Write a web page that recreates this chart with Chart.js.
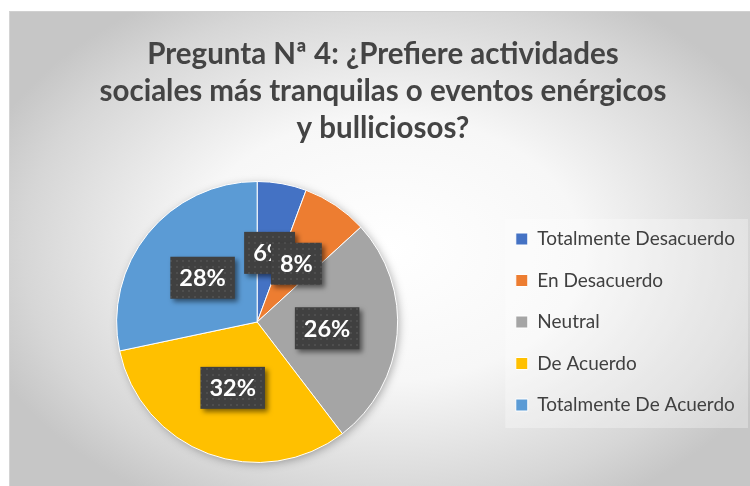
<!DOCTYPE html>
<html>
<head>
<meta charset="utf-8">
<script src="https://cdn.jsdelivr.net/npm/chart.js@4.4.0/dist/chart.umd.min.js"></script>
<style>
  html, body { margin: 0; padding: 0; background: #fff; }
  #wrap { position: relative; width: 750px; height: 486px; overflow: hidden; }
  #bg {
    position: absolute; left: 9px; top: 11px; width: 741px; height: 475px;
    box-sizing: border-box; border-top: 1px solid #d0d0d0; border-left: 1px solid #d4d4d4;
    background: radial-gradient(ellipse 58% 62% at 51% 50%, #ffffff 0%, #f7f7f7 45%, #d6d6d6 85%, #c6c6c6 100%);
  }
  canvas { position: absolute; left: 0; top: 0; }
</style>
</head>
<body>
<div id="wrap">
  <div id="bg"></div>
  <canvas id="pie" width="750" height="486"></canvas>
</div>
<script>
const titleLines = ['Pregunta Nª 4: ¿Prefiere actividades', 'sociales más tranquilas o eventos enérgicos', 'y bulliciosos?'];
const categories = ['Totalmente Desacuerdo', 'En Desacuerdo', 'Neutral', 'De Acuerdo', 'Totalmente De Acuerdo'];
const responses = [3, 4, 14, 17, 15];
const sliceColors = ['#4472C4', '#ED7D31', '#A5A5A5', '#FFC000', '#5B9BD5'];

const LEGEND_PAD = 22.5;

// small dotted texture for the label boxes
function dotPattern(ctx) {
    const p = document.createElement('canvas');
    p.width = 6;
    p.height = 6;
    const c = p.getContext('2d');
    c.fillStyle = '#404040';
    c.fillRect(0, 0, 6, 6);
    c.fillStyle = '#4e4e4e';
    c.fillRect(2, 2, 2, 2);
    return ctx.createPattern(p, 'repeat');
}

const legendPanel = {
    id: 'legendPanel',
    beforeDraw(chart) {
        const lg = chart.legend;
        if (!lg || !lg.columnSizes) return;
        const colH = lg.columnSizes[0].height;
        const startY = (lg.top + LEGEND_PAD + lg.bottom - colH) / 2;
        const ctx = chart.ctx;
        ctx.save();
        ctx.fillStyle = 'rgba(255,255,255,0.3)';
        ctx.fillRect(lg.left + 12, startY - 10.5, chart.width - lg.left - 14, colH - LEGEND_PAD + 24);
        ctx.restore();
    }
};

const pieShadow = {
    id: 'pieShadow',
    beforeDatasetsDraw(chart) {
        const arc = chart.getDatasetMeta(0).data[0];
        if (!arc) return;
        const ctx = chart.ctx;
        ctx.save();
        ctx.shadowColor = 'rgba(0,0,0,0.35)';
        ctx.shadowBlur = 10;
        ctx.shadowOffsetX = 2;
        ctx.shadowOffsetY = 2;
        ctx.fillStyle = '#aaaaaa';
        ctx.beginPath();
        ctx.arc(arc.x, arc.y, arc.outerRadius - 1, 0, Math.PI * 2);
        ctx.fill();
        ctx.restore();
    }
};

const percentLabels = {
    id: 'percentLabels',
    afterDatasetsDraw(chart) {
        const ctx = chart.ctx;
        const data = chart.data.datasets[0].data;
        const total = data.reduce((a, b) => a + b, 0);
        const pattern = dotPattern(ctx);
        ctx.save();
        ctx.font = 'bold 23.5px Lato';
        ctx.textAlign = 'center';
        ctx.textBaseline = 'middle';
        chart.getDatasetMeta(0).data.forEach((arc, i) => {
            const pos = arc.tooltipPosition();
            const txt = Math.round(data[i] / total * 100) + '%';
            const w = ctx.measureText(txt).width + 18;
            const h = 42;
            ctx.shadowColor = 'rgba(0,0,0,0.5)';
            ctx.shadowBlur = 5;
            ctx.shadowOffsetX = 3;
            ctx.shadowOffsetY = 3;
            ctx.fillStyle = pattern;
            ctx.fillRect(pos.x - w / 2, pos.y - h / 2, w, h);
            ctx.shadowColor = 'transparent';
            ctx.fillStyle = '#ffffff';
            ctx.fillText(txt, pos.x, pos.y + 1);
        });
        ctx.restore();
    }
};

const chart = new Chart(document.getElementById('pie').getContext('2d'), {
    type: 'pie',
    data: {
        labels: categories,
        datasets: [{
            data: responses,
            backgroundColor: sliceColors,
            borderColor: '#ffffff',
            borderWidth: 1,
            hoverOffset: 0
        }]
    },
    options: {
        responsive: false,
        animation: false,
        devicePixelRatio: 1,
        layout: { padding: { left: 21, right: 5, top: 36, bottom: 23 } },
        plugins: {
            title: {
                display: true,
                text: titleLines,
                color: '#444444',
                font: { family: 'Lato', size: 29.5, weight: 'bold', lineHeight: 37 / 29.5 },
                padding: { top: 0, bottom: 34 }
            },
            legend: {
                position: 'right',
                fullSize: false,
                labels: {
                    boxWidth: 12,
                    boxHeight: 12,
                    padding: LEGEND_PAD,
                    color: '#404040',
                    font: { family: 'Lato', size: 19 }
                }
            },
            tooltip: { enabled: false }
        }
    },
    plugins: [legendPanel, pieShadow, percentLabels]
});
</script>
</body>
</html>
